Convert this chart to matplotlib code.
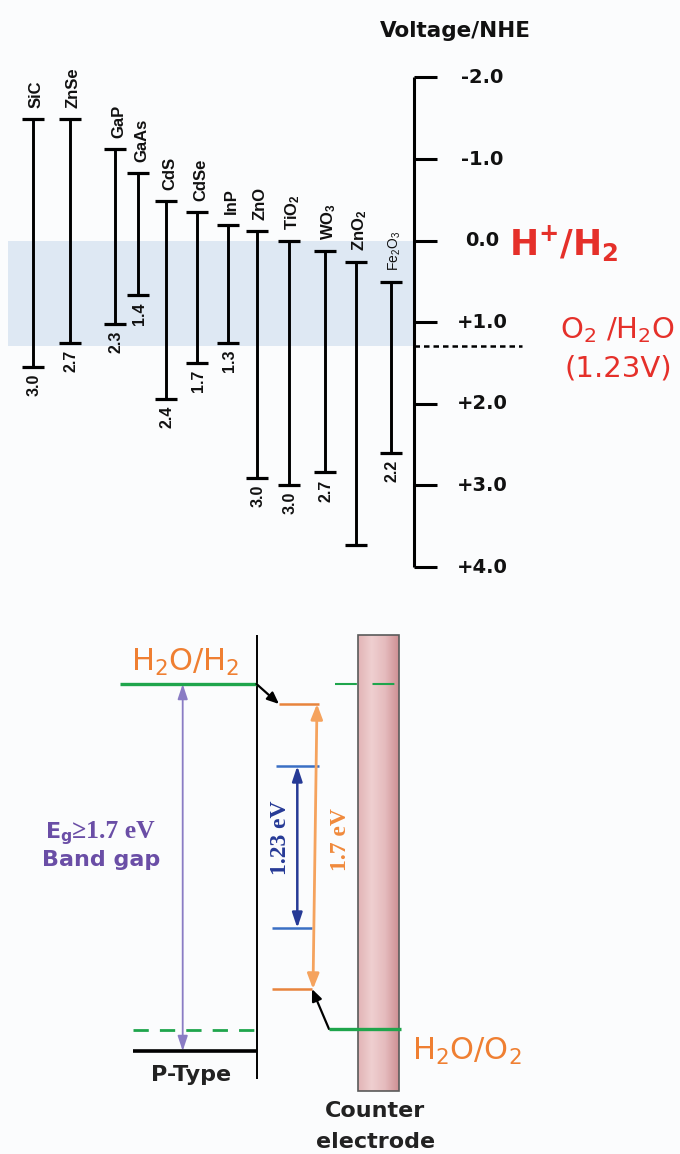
import numpy as np
import matplotlib
matplotlib.use('Agg')
import matplotlib.pyplot as plt
from matplotlib.patches import Rectangle
from matplotlib.colors import LinearSegmentedColormap

plt.rcParams['font.family'] = ['Liberation Sans', 'DejaVu Sans']
plt.rcParams['mathtext.default'] = 'regular'

# ---------------- data: top panel (band edges, V vs NHE) ----------------
materials = ['SiC', 'ZnSe', 'GaP', 'GaAs', 'CdS', 'CdSe', 'InP', 'ZnO',
             'TiO$_2$', 'WO$_3$', 'ZnO$_2$', 'Fe$_2$O$_3$']
cb_edge = [-1.49, -1.49, -1.12, -0.83, -0.49, -0.35, -0.19, -0.12, 0.00, 0.13, 0.26, 0.51]
vb_edge = [1.55, 1.25, 1.02, 0.67, 1.94, 1.50, 1.25, 2.91, 2.99, 2.84, 3.73, 2.60]
gap_labels = ['3.0', '2.7', '2.3', '1.4', '2.4', '1.7', '1.3', '3.0', '3.0', '2.7', '', '2.2']
volt_ticks = [-2, -1, 0, 1, 2, 3, 4]
volt_ticklabels = ['-2.0', '-1.0', '0.0', '+1.0', '+2.0', '+3.0', '+4.0']
h_level = 0.0      # H+/H2
o2_level = 1.29    # O2/H2O dashed line as drawn

# ---------------- data: bottom schematic levels (schematic units) ----------------
sc_cb = 684        # semiconductor conduction band / H2O/H2
sc_fermi = 1030    # quasi Fermi level (dashed)
sc_vb = 1051       # valence band
orange_levels = [704, 989]     # 1.7 eV span
blue_levels = [766, 928]       # 1.23 eV span
ce_upper = 684
ce_lower = 1029

# ---------------- layout ----------------
W, H = 680, 1154
bar_x = [33, 70, 115, 138, 166, 197, 228, 257, 289, 325, 356, 391]
cap = 11
axis_x = 414
px_per_v = 81.6
v0_px = 240.7
top_h = 590

bg = '#fbfcfd'
fig = plt.figure(figsize=(W / 100, H / 100), dpi=100, facecolor=bg)

# ---------------- top panel ----------------
ax1 = fig.add_axes([0, 1 - top_h / H, 1, top_h / H])
ax1.set_facecolor(bg)
ax1.axis('off')
ax1.set_xlim(0, W)
ax1.set_ylim((top_h - v0_px) / px_per_v, -v0_px / px_per_v)

ax1.fill_between([8, axis_x], h_level, o2_level, color='#dee8f3', lw=0, zorder=0)

for i, (x, cb, vb) in enumerate(zip(bar_x, cb_edge, vb_edge)):
    ax1.vlines(x, cb, vb, color='black', lw=2.1, zorder=3)
    ax1.hlines([cb, vb], x - cap, x + cap, color='black', lw=2.3, zorder=3)
    is_fe = materials[i].startswith('Fe')
    ax1.annotate(materials[i], xy=(x, cb), xytext=(2.5, 8), textcoords='offset points',
                 rotation=90, ha='center', va='bottom',
                 fontsize=10 if is_fe else 12, fontweight='normal' if is_fe else 'bold',
                 color='#111111')
    if gap_labels[i]:
        ax1.annotate(gap_labels[i], xy=(x, vb), xytext=(1, -5), textcoords='offset points',
                     rotation=90, ha='center', va='top', fontsize=11.5,
                     fontweight='bold', color='#111111')

ax1.vlines(axis_x, volt_ticks[0], volt_ticks[-1], color='black', lw=2.2)
ax1.hlines(volt_ticks, axis_x, axis_x + 23, color='black', lw=2.2)
for v, lab in zip(volt_ticks, volt_ticklabels):
    ax1.text(482, v, lab, ha='center', va='center', fontsize=14, fontweight='bold',
             family='DejaVu Sans', color='#111111')

ax1.hlines(o2_level, axis_x, 522, color='black', lw=1.8, linestyles=(0, (2.2, 1.6)))

fig.text(455 / W, 1 - 31 / H, 'Voltage/NHE', ha='center', va='center', fontsize=15.5,
         fontweight='bold', family='DejaVu Sans', color='#111111')
fig.text(564 / W, 1 - 244 / H, 'H$^{+}$/H$_2$', ha='center', va='center', fontsize=25,
         fontweight='bold', family='DejaVu Sans', color='#e5302a')
fig.text(617 / W, 1 - 330 / H, 'O$_2$ /H$_2$O', ha='center', va='center', fontsize=21,
         family='DejaVu Sans', color='#e5302a')
fig.text(618 / W, 1 - 369 / H, '(1.23V)', ha='center', va='center', fontsize=21,
         family='DejaVu Sans', color='#e5302a')

# ---------------- bottom panel ----------------
ax2 = fig.add_axes([0, 0, 1, (H - top_h) / H])
ax2.set_facecolor(bg)
ax2.axis('off')

green = '#1fa54c'
orange_line = '#e8843c'
orange_arrow = '#f5a35e'
blue_line = '#3a6fc4'
navy = '#263a96'
purple = '#8a7cc4'

iface_x = 256.5
ax2.vlines(iface_x, 635, 1079, color='black', lw=1.4)
ax2.hlines(sc_cb, 120, iface_x, color=green, lw=2.4)
ax2.hlines(sc_fermi, 133, iface_x, color=green, lw=2.0, linestyles=(0, (5.5, 4)))
ax2.hlines(sc_vb, 133, iface_x, color='black', lw=2.6)

ax2.annotate('', xy=(182.7, sc_cb), xytext=(182.7, sc_vb),
             arrowprops=dict(arrowstyle='<|-|>,head_length=0.9,head_width=0.3',
                             color=purple, lw=1.3, shrinkA=0, shrinkB=0))

ax2.hlines(orange_levels[0], 279, 319, color=orange_line, lw=1.8)
ax2.hlines(orange_levels[1], 272, 312, color=orange_line, lw=1.8)
ax2.hlines(blue_levels[0], 276, 319, color=blue_line, lw=1.8)
ax2.hlines(blue_levels[1], 272, 312, color=blue_line, lw=1.8)

ax2.annotate('', xy=(297.3, blue_levels[0]), xytext=(297.3, blue_levels[1]),
             arrowprops=dict(arrowstyle='<|-|>,head_length=0.9,head_width=0.3',
                             color=navy, lw=1.8, shrinkA=0, shrinkB=0))
ax2.annotate('', xy=(317, orange_levels[0]), xytext=(313, orange_levels[1]),
             arrowprops=dict(arrowstyle='<|-|>,head_length=0.9,head_width=0.35',
                             color=orange_arrow, lw=2.0, shrinkA=0, shrinkB=0))

ax2.annotate('', xy=(279, orange_levels[0]), xytext=(iface_x, sc_cb),
             arrowprops=dict(arrowstyle='-|>,head_length=0.7,head_width=0.3',
                             color='black', lw=1.6, shrinkA=0, shrinkB=0))
ax2.annotate('', xy=(312, orange_levels[1]), xytext=(329, ce_lower),
             arrowprops=dict(arrowstyle='-|>,head_length=0.7,head_width=0.3',
                             color='black', lw=1.6, shrinkA=0, shrinkB=0))

# counter electrode
cmap = LinearSegmentedColormap.from_list('ce', ['#e2b4b6', '#efcfd0', '#e5bbbd', '#cf9094'])
grad = np.linspace(0, 1, 64).reshape(1, -1)
ax2.imshow(grad, cmap=cmap, extent=(358, 399, 1091, 635), aspect='auto', zorder=1)
ax2.add_patch(Rectangle((358, 635), 41, 456, fill=False, ec='#5a5a5a', lw=1.2, zorder=2))
ax2.hlines(ce_upper, 335, 396, color=green, lw=1.5, linestyles=(0, (10.5, 7.5)), zorder=3)
ax2.hlines(ce_lower, 329, 401, color=green, lw=2.4, zorder=3)

ax2.set_xlim(0, W)
ax2.set_ylim(H, top_h)

orange_txt = '#ef7f32'
purple_txt = '#6a4ea6'
ax2.text(185, 671, 'H$_2$O/H$_2$', ha='center', va='baseline', fontsize=22,
         family='DejaVu Sans', color=orange_txt)
ax2.text(467, 1060, 'H$_2$O/O$_2$', ha='center', va='baseline', fontsize=22,
         family='DejaVu Sans', color=orange_txt)
ax2.text(45, 838, 'E$_g$', ha='left', va='baseline', fontsize=16,
         fontweight='bold', family='DejaVu Sans', color=purple_txt)
ax2.text(72, 838, '≥1.7 eV', ha='left', va='baseline', fontsize=18.5,
         fontweight='bold', family='Liberation Serif', color=purple_txt)
ax2.text(101, 866, 'Band gap', ha='center', va='baseline', fontsize=16,
         fontweight='bold', family='DejaVu Sans', color=purple_txt)
ax2.text(191, 1081, 'P-Type', ha='center', va='baseline', fontsize=16,
         fontweight='bold', family='DejaVu Sans', color='#222222')
ax2.text(280, 838, '1.23 eV', rotation=90, ha='center', va='center', fontsize=17,
         fontweight='bold', family='Liberation Serif', color=navy)
ax2.text(341, 840, '1.7 eV', rotation=90, ha='center', va='center', fontsize=17,
         fontweight='bold', family='Liberation Serif', color='#f08a3c')
ax2.text(375, 1111, 'Counter', ha='center', va='center', fontsize=16,
         fontweight='bold', family='DejaVu Sans', color='#222222')
ax2.text(375.5, 1142, 'electrode', ha='center', va='center', fontsize=16,
         fontweight='bold', family='DejaVu Sans', color='#222222')

fig.savefig('out.png', dpi=100, facecolor=bg)
